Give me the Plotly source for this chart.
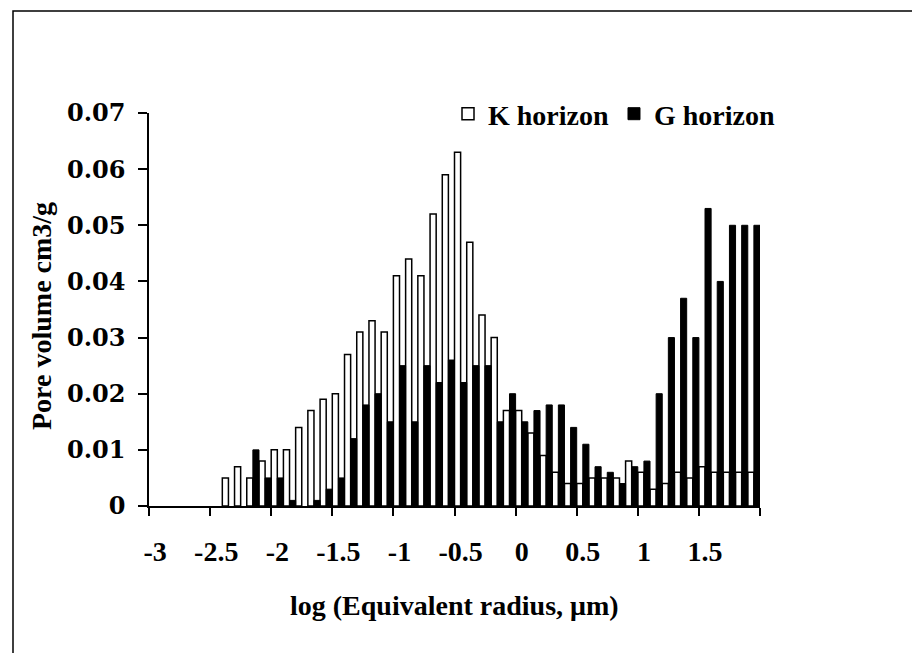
import plotly.graph_objects as go

# Categories: log(equivalent radius) class centres
x_vals = [round(-3.0 + 0.1 * i, 1) for i in range(50)]

k_horizon = [0, 0, 0, 0, 0, 0,
             0.005, 0.007, 0.005, 0.008, 0.010, 0.010, 0.014, 0.017, 0.019, 0.020,
             0.027, 0.031, 0.033, 0.031, 0.041, 0.044, 0.041, 0.052, 0.059, 0.063,
             0.047, 0.034, 0.030, 0.017, 0.017, 0.013, 0.009, 0.006, 0.004, 0.004,
             0.005, 0.005, 0.005, 0.008, 0.006, 0.003, 0.004, 0.006, 0.005, 0.007,
             0.006, 0.006, 0.006, 0.006]

g_horizon = [0, 0, 0, 0, 0, 0, 0, 0,
             0.010, 0.005, 0.005, 0.001, 0, 0.001, 0.003, 0.005,
             0.012, 0.018, 0.020, 0.015, 0.025, 0.015, 0.025, 0.022, 0.026, 0.022,
             0.025, 0.025, 0.015, 0.020, 0.015, 0.017, 0.018, 0.018, 0.014, 0.011,
             0.007, 0.006, 0.004, 0.007, 0.008, 0.020, 0.030, 0.037, 0.030, 0.053,
             0.040, 0.050, 0.050, 0.050]

tick_vals = [-3, -2.5, -2, -1.5, -1, -0.5, 0, 0.5, 1, 1.5]
tick_text = ["-3", "-2.5", "-2", "-1.5", "-1", "-0.5", "0", "0.5", "1", "1.5"]
boundary_ticks = [v - 0.05 for v in tick_vals] + [1.95]

y_tick_vals = [0, 0.01, 0.02, 0.03, 0.04, 0.05, 0.06, 0.07]
y_tick_text = ["0", "0.01", "0.02", "0.03", "0.04", "0.05", "0.06", "0.07"]

FONT = "Liberation Serif, Times New Roman, serif"
YFONT = "DejaVu Serif, Liberation Serif, serif"
BAR_W = 0.05  # each series takes half of a 0.1-wide class

fig = go.Figure()
fig.add_trace(go.Bar(x=x_vals, y=k_horizon, name="K horizon", showlegend=False,
                     width=BAR_W, offset=-BAR_W,
                     marker=dict(color="white",
                                 line=dict(color="black",
                                           width=[1.5 if v > 0 else 0 for v in k_horizon]))))
fig.add_trace(go.Bar(x=x_vals, y=g_horizon, name="G horizon", showlegend=False,
                     width=BAR_W, offset=0,
                     marker=dict(color="black",
                                 line=dict(color="black",
                                           width=[1 if v > 0 else 0 for v in g_horizon]))))
# legend entries
fig.add_trace(go.Bar(x=[None], y=[None], name="K horizon",
                     marker=dict(color="white", line=dict(color="black", width=1.5))))
fig.add_trace(go.Bar(x=[None], y=[None], name="G horizon",
                     marker=dict(color="black", line=dict(color="black", width=1))))

W, H = 920, 653
ml, mr, mt, mb = 141, 168, 105, 155
pw, ph = W - ml - mr, H - mt - mb

def px(xp):
    return (xp - ml) / pw

def py(yp):
    return (H - mb - yp) / ph

fig.update_layout(
    width=W, height=H,
    margin=dict(l=ml, r=mr, t=mt, b=mb, autoexpand=False),
    paper_bgcolor="white", plot_bgcolor="white",
    font=dict(family=FONT, size=28, color="black", weight="bold"),
    barmode="overlay",
    showlegend=True,
    legend=dict(orientation="h", x=px(440), xanchor="left", y=py(81), yanchor="top",
                font=dict(family=FONT, size=28, color="black", weight="bold"),
                bgcolor="rgba(0,0,0,0)", itemwidth=30, tracegroupgap=0),
    xaxis=dict(range=[-3.05, 1.95], tickmode="array", tickvals=tick_vals, ticktext=tick_text,
               ticks="outside", ticklen=0, showgrid=False, zeroline=False,
               showline=True, linecolor="black", linewidth=1.5, layer="above traces",
               tickfont=dict(family=FONT, size=28, color="black", weight="bold"),
               ticklabelstandoff=20,
               minor=dict(tickmode="array", tickvals=boundary_ticks, ticks="outside",
                          ticklen=8, tickwidth=1.5, tickcolor="black", showgrid=False)),
    yaxis=dict(range=[0, 0.07], tickmode="array",
               tickvals=y_tick_vals, ticktext=y_tick_text,
               ticks="outside", ticklen=9, tickwidth=1.5, tickcolor="black",
               showgrid=False, zeroline=False, showline=True, linecolor="black", linewidth=1.5,
               layer="above traces",
               tickfont=dict(family=YFONT, size=24, color="black", weight="bold"),
               ticklabelstandoff=8),
    annotations=[
        dict(text="log (Equivalent radius, μm)", xref="paper", yref="paper",
             x=px(446), y=py(597), xanchor="center", yanchor="middle", showarrow=False,
             font=dict(family=FONT, size=28, color="black", weight="bold")),
        dict(text="Pore volume cm3/g", xref="paper", yref="paper",
             x=px(33), y=py(308), xanchor="center", yanchor="middle", showarrow=False,
             textangle=-90,
             font=dict(family=FONT, size=28, color="black", weight="bold")),
    ],
    shapes=[
        dict(type="rect", xref="paper", yref="paper",
             x0=px(5), x1=px(930), y0=py(652), y1=py(3),
             line=dict(color="black", width=1.5), fillcolor="rgba(0,0,0,0)", layer="below"),
    ],
)

fig.write_html("out.html")
